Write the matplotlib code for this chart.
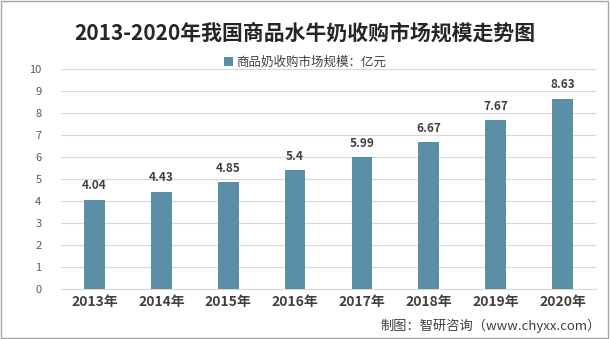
import matplotlib
matplotlib.use('Agg')
from matplotlib import pyplot as plt
from matplotlib.patches import Rectangle

plt.rcParams['font.family'] = ['Noto Sans CJK SC', 'DejaVu Sans']

years = ['2013年', '2014年', '2015年', '2016年', '2017年', '2018年', '2019年', '2020年']
values = [4.04, 4.43, 4.85, 5.4, 5.99, 6.67, 7.67, 8.63]
value_labels = ['4.04', '4.43', '4.85', '5.4', '5.99', '6.67', '7.67', '8.63']
y_ticks = list(range(0, 11))

bar_color = '#5b8fa7'

fig = plt.figure(figsize=(6.1, 3.39), dpi=100)
ax = fig.add_axes([61 / 610, 1 - 289 / 339, 535 / 610, 220 / 339])

x = range(len(years))
ax.bar(x, values, width=0.31, color=bar_color, zorder=3, label='商品奶收购市场规模：亿元')
for i, (v, s) in enumerate(zip(values, value_labels)):
    ax.text(i, v + 0.35, s, ha='center', va='bottom', fontsize=8.5,
            fontweight='bold', color='#404040')

ax.set_xlim(-0.5, len(years) - 0.5)
ax.set_ylim(0, 10)
ax.set_yticks(y_ticks)
ax.set_yticklabels([str(t) for t in y_ticks], fontsize=8, color='#595959')
ax.set_xticks(list(x))
ax.set_xticklabels(years, fontsize=10, fontweight='bold', color='#404040')
ax.tick_params(axis='both', length=0)
ax.tick_params(axis='y', pad=14)
ax.tick_params(axis='x', pad=4)
ax.grid(axis='y', color='#d9d9d9', linewidth=0.8, zorder=0)
for side in ['top', 'right', 'left']:
    ax.spines[side].set_visible(False)
ax.spines['bottom'].set_color('#d9d9d9')

fig.text(0.5, 1 - 33 / 339, '2013-2020年我国商品水牛奶收购市场规模走势图',
         ha='center', va='center', fontsize=15, fontweight='bold', color='#262626')

leg = fig.legend(loc='center', bbox_to_anchor=(0.5, 1 - 62 / 339), frameon=False,
                 fontsize=9, handlelength=0.7, handleheight=0.7, handletextpad=0.3)
for t in leg.get_texts():
    t.set_color('#404040')

fig.text(601 / 610, 1 - 326 / 339, '制图：智研咨询（www.chyxx.com）',
         ha='right', va='center', fontsize=9.5, color='#404040')

fig.patches.append(Rectangle((0.002, 0.003), 0.995, 0.993, transform=fig.transFigure,
                             fill=False, edgecolor='#a6a6a6', linewidth=1))

fig.savefig('out.png', dpi=100)
